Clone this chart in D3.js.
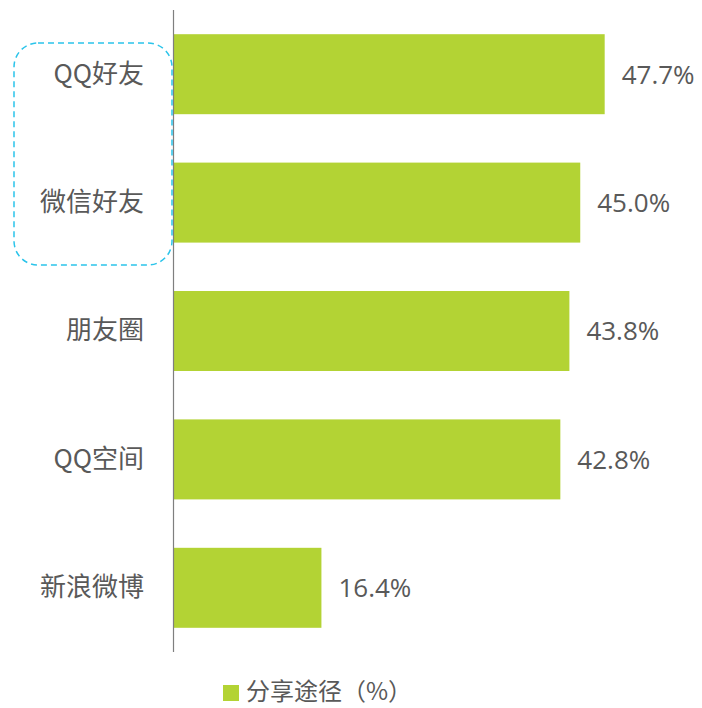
<!DOCTYPE html>
<html><head><meta charset="utf-8">
<script src="https://cdn.jsdelivr.net/npm/d3@7"></script>
<style>html,body{margin:0;padding:0;background:#fff;}</style>
</head><body>
<script>
const categories = ["QQ好友", "微信好友", "朋友圈", "QQ空间", "新浪微博"];
const values = [47.7, 45.0, 43.8, 42.8, 16.4];
const seriesName = "分享途径（%）";

const W = 702, H = 708;
const font = "'Microsoft YaHei','Noto Sans CJK SC','Noto Sans',sans-serif";
const numFont = "'Open Sans','Noto Sans',sans-serif";
const svg = d3.select("body").append("svg").attr("width", W).attr("height", H);

const x = d3.scaleLinear().domain([0, 50]).range([173, 173 + 50 * 9.05]);
const y = d3.scaleBand().domain(categories).range([10, 652]).paddingInner(0.377).paddingOuter(0.1885);

svg.selectAll("rect.bar").data(values).join("rect")
  .attr("class", "bar")
  .attr("x", x(0))
  .attr("y", (d, i) => y(categories[i]))
  .attr("width", d => x(d) - x(0))
  .attr("height", y.bandwidth())
  .attr("fill", "#b3d334");

svg.selectAll("text.val").data(values).join("text")
  .attr("class", "val")
  .attr("x", d => x(d) + 17)
  .attr("y", (d, i) => y(categories[i]) + y.bandwidth() / 2)
  .attr("dy", "0.36em")
  .attr("font-family", numFont).attr("font-size", 26).attr("fill", "#595959")
  .text(d => d.toFixed(1) + "%");

const axis = d3.axisLeft(y).tickSize(0).tickPadding(29);
const g = svg.append("g").attr("transform", `translate(${x(0)},0)`).call(axis);
g.select(".domain").attr("stroke", "#7f7f7f").attr("stroke-width", 1.2).attr("d", "M0.5,10V652");
g.selectAll("text").attr("font-family", font).attr("font-size", 26).attr("fill", "#595959");

// dashed highlight
svg.append("rect")
  .attr("x", 14).attr("y", 43).attr("width", 158).attr("height", 222)
  .attr("rx", 24).attr("ry", 24)
  .attr("fill", "none").attr("stroke", "#2bc4ea").attr("stroke-width", 1.5)
  .attr("stroke-dasharray", "6,4");

// legend
const lg = svg.append("g");
lg.append("rect").attr("x", 223).attr("y", 685).attr("width", 16).attr("height", 16).attr("fill", "#b3d334");
lg.append("text").attr("x", 246).attr("y", 692).attr("dy", "0.35em")
  .attr("font-family", font).attr("font-size", 24).attr("fill", "#595959")
  .text(seriesName);
</script>
</body></html>
